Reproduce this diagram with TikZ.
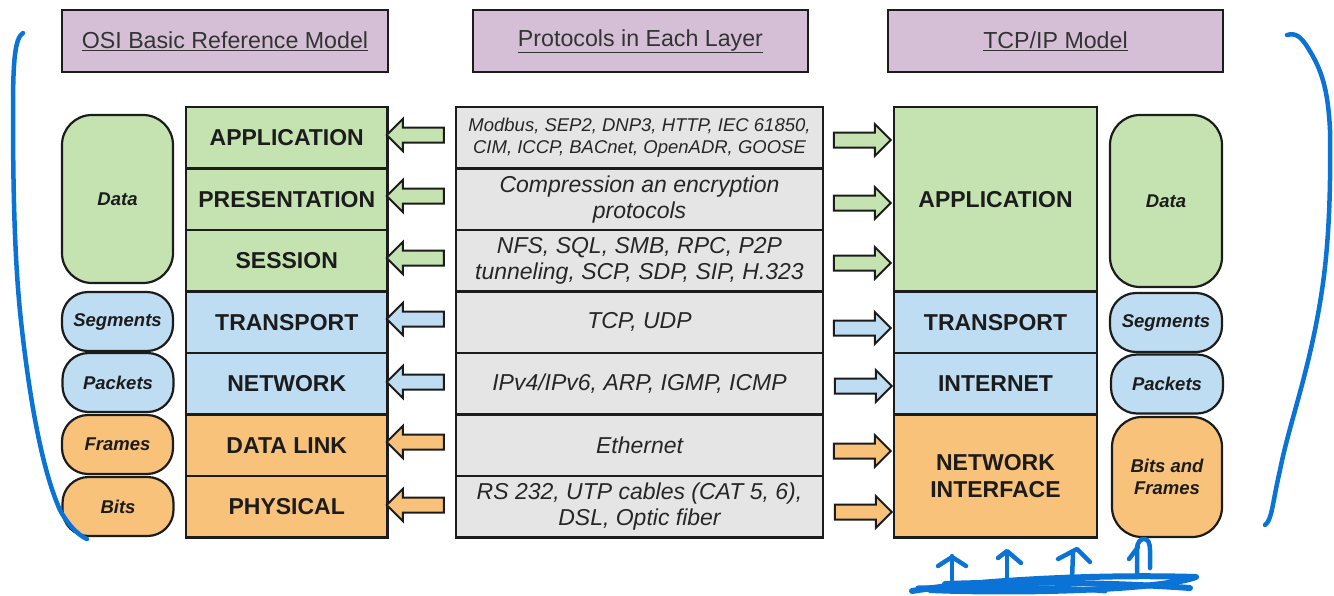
\documentclass[tikz,border=0pt]{standalone}
\usepackage{fontspec}
\setmainfont{Liberation Sans}
\usetikzlibrary{shapes.arrows}

\definecolor{lgreen}{HTML}{C5E2B1}
\definecolor{lblue}{HTML}{BEDDF2}
\definecolor{lorange}{HTML}{F8C27B}
\definecolor{lgray}{HTML}{E5E5E5}
\definecolor{lpurple}{HTML}{D5BFD7}
\definecolor{ink}{HTML}{1C1C1C}
\definecolor{pen}{HTML}{0B73D5}

\tikzset{
  box/.style={draw=ink, line width=2.2pt, inner sep=0pt, outer sep=0pt, align=center, text=ink},
  layer/.style={box, font=\fontsize{23}{27}\selectfont\bfseries},
  proto/.style={box, fill=lgray, font=\fontsize{23}{26}\selectfont\itshape, text=black!85},
  protosmall/.style={proto, font=\fontsize{18.5}{22}\selectfont\itshape},
  headbox/.style={box, fill=lpurple, font=\fontsize{23.2}{27}\selectfont, text=black!80},
  pill/.style={draw=ink, line width=2.2pt, inner sep=0pt, rounded corners=26pt, align=center,
    font=\fontsize{18.5}{21.5}\selectfont\bfseries\itshape, text=ink},
  blockarrow/.style={single arrow, draw=ink, line width=2pt, inner sep=6.5pt,
    single arrow head extend=8.5pt, minimum height=57pt},
  leftarrow/.style={blockarrow, shape border rotate=180},
  penline/.style={draw=pen, line width=4.5pt, line cap=round, line join=round},
}

\begin{document}
\begin{tikzpicture}[x=1pt, y=-1pt]
\useasboundingbox (0,0) rectangle (1334,595);

% column headings
\node[headbox, minimum width=326pt, minimum height=62pt] (hosi) at (225,41) {\underline{OSI Basic Reference Model}};
\node[headbox, minimum width=335pt, minimum height=62pt] (hproto) at (640.5,41) {\underline{Protocols in Each Layer}};
\node[headbox, minimum width=335pt, minimum height=62pt] (htcp) at (1055.5,41) {\underline{TCP/IP Model}};

% OSI layers
\node[layer, fill=lgreen, minimum width=201.5pt, minimum height=61.5pt] (oapp) at (286.75,137.75) {APPLICATION};
\node[layer, fill=lgreen, minimum width=201.5pt, minimum height=61.5pt] (opre) at (286.75,199.25) {PRESENTATION};
\node[layer, fill=lgreen, minimum width=201.5pt, minimum height=61.5pt] (oses) at (286.75,260.75) {SESSION};
\node[layer, fill=lblue, minimum width=201.5pt, minimum height=61.5pt] (otra) at (286.75,322.25) {TRANSPORT};
\node[layer, fill=lblue, minimum width=201.5pt, minimum height=61.5pt] (onet) at (286.75,383.75) {NETWORK};
\node[layer, fill=lorange, minimum width=201.5pt, minimum height=61.5pt] (odat) at (286.75,445.25) {DATA LINK};
\node[layer, fill=lorange, minimum width=201.5pt, minimum height=61.5pt] (ophy) at (286.75,506.75) {PHYSICAL};

% protocols
\node[protosmall, minimum width=367pt, minimum height=61.5pt] (papp) at (639.5,137.75) {Modbus, SEP2, DNP3, HTTP, IEC 61850,\\CIM, ICCP, BACnet, OpenADR, GOOSE};
\node[proto, minimum width=367pt, minimum height=61.5pt] (ppre) at (639.5,199.25) {Compression an encryption\\protocols};
\node[proto, minimum width=367pt, minimum height=61.5pt] (pses) at (639.5,260.75) {NFS, SQL, SMB, RPC, P2P\\tunneling, SCP, SDP, SIP, H.323};
\node[proto, minimum width=367pt, minimum height=61.5pt] (ptra) at (639.5,322.25) {TCP, UDP};
\node[proto, minimum width=367pt, minimum height=61.5pt] (pnet) at (639.5,383.75) {IPv4/IPv6, ARP, IGMP, ICMP};
\node[proto, minimum width=367pt, minimum height=61.5pt] (pdat) at (639.5,445.25) {Ethernet};
\node[proto, minimum width=367pt, minimum height=61.5pt] (pphy) at (639.5,506.75) {RS 232, UTP cables (CAT 5, 6),\\DSL, Optic fiber};

% TCP/IP layers
\node[layer, fill=lgreen, minimum width=203pt, minimum height=184.5pt] (tapp) at (995.5,199.25) {APPLICATION};
\node[layer, fill=lblue, minimum width=203pt, minimum height=61.5pt] (ttra) at (995.5,322.25) {TRANSPORT};
\node[layer, fill=lblue, minimum width=203pt, minimum height=61.5pt] (tint) at (995.5,383.75) {INTERNET};
\node[layer, fill=lorange, minimum width=203pt, minimum height=123pt] (tnif) at (995.5,476) {NETWORK\\INTERFACE};

% data units, OSI side
\node[pill, fill=lgreen, minimum width=111pt, minimum height=168pt, rounded corners=30pt] (ldata) at (117.5,199) {Data};
\node[pill, fill=lblue, minimum width=111pt, minimum height=59pt] (lseg) at (117.5,321.5) {Segments};
\node[pill, fill=lblue, minimum width=111pt, minimum height=59pt] (lpac) at (118,382.5) {Packets};
\node[pill, fill=lorange, minimum width=111pt, minimum height=59pt] (lfra) at (117.5,444.5) {Frames};
\node[pill, fill=lorange, minimum width=111pt, minimum height=59pt] (lbit) at (118,506.5) {Bits};

% data units, TCP/IP side
\node[pill, fill=lgreen, minimum width=112pt, minimum height=172pt, rounded corners=30pt] (rdata) at (1166,201) {Data};
\node[pill, fill=lblue, minimum width=112pt, minimum height=59pt] (rseg) at (1166,322.5) {Segments};
\node[pill, fill=lblue, minimum width=112pt, minimum height=59pt] (rpac) at (1167,384) {Packets};
\node[pill, fill=lorange, minimum width=110pt, minimum height=120pt, rounded corners=30pt] (rbit) at (1167,477) {Bits and\\Frames};

% block arrows towards the OSI stack
\node[leftarrow, fill=lgreen] (la1) at (419,135) {};
\node[leftarrow, fill=lgreen] (la2) at (419,196) {};
\node[leftarrow, fill=lgreen] (la3) at (419,258) {};
\node[leftarrow, fill=lblue] (la4) at (419,319) {};
\node[leftarrow, fill=lblue] (la5) at (419,382) {};
\node[leftarrow, fill=lorange] (la6) at (419,442) {};
\node[leftarrow, fill=lorange] (la7) at (419,505) {};

% block arrows towards the TCP/IP stack
\node[blockarrow, fill=lgreen] (ra1) at (858.5,140) {};
\node[blockarrow, fill=lgreen] (ra2) at (858.5,203) {};
\node[blockarrow, fill=lgreen] (ra3) at (858.5,263) {};
\node[blockarrow, fill=lblue] (ra4) at (858.5,328) {};
\node[blockarrow, fill=lblue] (ra5) at (859.5,386) {};
\node[blockarrow, fill=lorange] (ra6) at (858.5,451) {};
\node[blockarrow, fill=lorange] (ra7) at (859.5,512) {};

% hand-drawn brackets
\draw[penline] (23,33) .. controls (15,38) and (13,60) .. (13,110)
  .. controls (13,200) and (15,270) .. (22,330)
  .. controls (30,400) and (42,470) .. (60,510)
  .. controls (68,525) and (78,535) .. (87,539);
\draw[penline] (1287,35) .. controls (1295,33) and (1300,35) .. (1308,48)
  .. controls (1322,70) and (1328,90) .. (1330,130)
  .. controls (1331,200) and (1328,250) .. (1322,290)
  .. controls (1310,370) and (1290,420) .. (1280,470)
  .. controls (1272,505) and (1272,520) .. (1265,525);

% hand-drawn underline with upward strokes
\draw[penline, line width=6pt] (912,591) .. controls (980,580) and (1100,574) .. (1196,577)
  .. controls (1160,590) and (1020,594) .. (930,590);
\draw[penline, line width=6pt] (945,584) .. controls (1030,581) and (1120,583) .. (1190,588);
\draw[penline, line width=5pt] (918,588) .. controls (1000,586) and (1080,588) .. (1105,591);
\draw[penline] (952,580) -- (952,556);
\draw[penline] (938,566) -- (952,557) -- (966,566);
\draw[penline] (1007,580) -- (1007,552);
\draw[penline] (998,558) -- (1007,551) -- (1021,563);
\draw[penline] (1072,579) -- (1073,553);
\draw[penline] (1058,559) -- (1077,549) -- (1090,562);
\draw[penline] (1137,575) -- (1137,550) .. controls (1137,541) and (1141,539) .. (1144,539)
  .. controls (1148,539) and (1150,543) .. (1150,550) -- (1150,568);
\draw[penline] (1129,559) -- (1138,547);
\end{tikzpicture}
\end{document}
